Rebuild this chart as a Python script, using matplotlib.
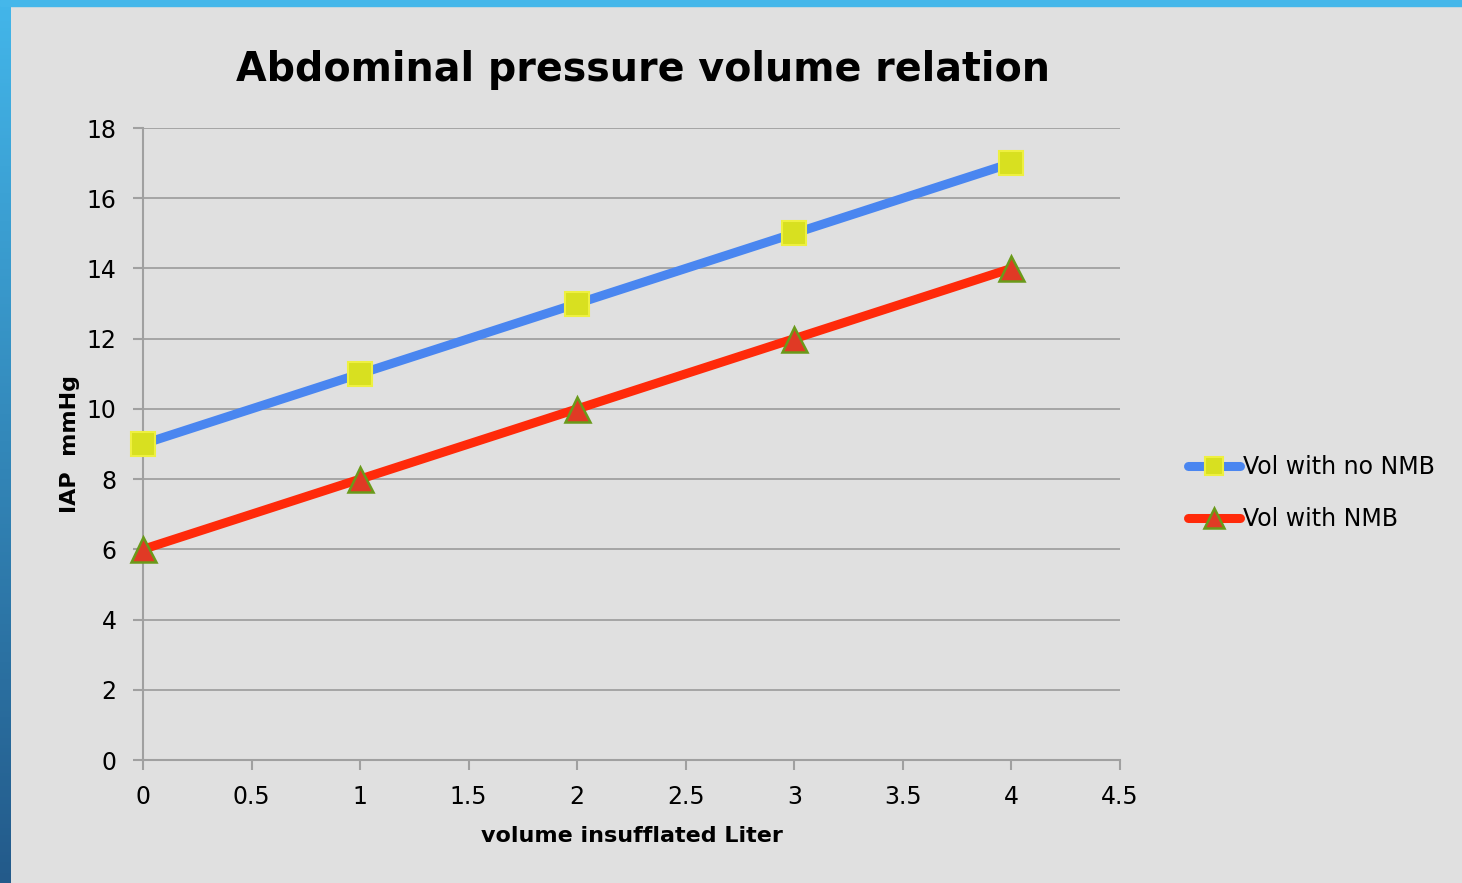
import numpy as np
import matplotlib
matplotlib.use("Agg")
import matplotlib.pyplot as plt
from matplotlib.patches import Rectangle

# data
volume = [0, 1, 2, 3, 4]
iap_no_nmb = [9, 11, 13, 15, 17]
iap_nmb = [6, 8, 10, 12, 14]
series_names = ["Vol with no NMB", "Vol with NMB"]

plt.rcParams['font.family'] = ['DejaVu Sans']

fig = plt.figure(figsize=(14.62, 8.83), dpi=100)
fig.patch.set_facecolor("#e0e0e0")

# blue slide frame (left gradient strip + top strip)
grad = np.linspace(0, 1, 256).reshape(-1, 1)
cmap = matplotlib.colors.LinearSegmentedColormap.from_list("frame", ["#43b6ea", "#235a8a"])
bax = fig.add_axes([0, 0, 11 / 1462, 1])
bax.imshow(grad, aspect="auto", cmap=cmap, extent=[0, 1, 0, 1])
bax.axis("off")
fig.patches.append(Rectangle((0, 1 - 6 / 883), 1, 6 / 883, transform=fig.transFigure,
                             color="#45b7ea", zorder=5))

ax = fig.add_axes([143 / 1462, 1 - 760 / 883, (1120 - 143) / 1462, (760 - 128) / 883])
ax.set_facecolor("#e0e0e0")

ax.plot(volume, iap_no_nmb, color="#4a86f0", lw=6.5, marker="s", markersize=17,
        markerfacecolor="#d8e020", markeredgecolor="#eef040", markeredgewidth=1.5,
        label=series_names[0], solid_capstyle="round", zorder=3, clip_on=False)
ax.plot(volume, iap_nmb, color="#ff2a0a", lw=6.5, marker="^", markersize=18,
        markerfacecolor="#e03a25", markeredgecolor="#6a9a1a", markeredgewidth=1.8,
        label=series_names[1], solid_capstyle="round", zorder=3, clip_on=False)

ax.set_xlim(0, 4.5)
ax.set_ylim(0, 18)
ax.set_xticks(np.arange(0, 4.51, 0.5))
ax.set_xticklabels(["0", "0.5", "1", "1.5", "2", "2.5", "3", "3.5", "4", "4.5"])
ax.set_yticks(np.arange(0, 19, 2))
ax.grid(axis="y", color="#a0a0a0", lw=1.3)
ax.set_axisbelow(True)
for s in ["top", "right"]:
    ax.spines[s].set_visible(False)
for s in ["left", "bottom"]:
    ax.spines[s].set_color("#a0a0a0")
    ax.spines[s].set_linewidth(1.5)
ax.tick_params(axis="both", colors="#a0a0a0", labelcolor="black", labelsize=17,
               length=7, width=1.5)
ax.tick_params(axis="y", pad=12)
ax.tick_params(axis="x", pad=11)

ax.set_xlabel("volume insufflated Liter", fontsize=16, fontweight="bold", labelpad=12)
ax.set_ylabel("IAP  mmHg", fontsize=16, fontweight="bold", labelpad=5)

fig.text(643 / 1462, 1 - 70 / 883, "Abdominal pressure volume relation", ha="center",
         va="center", fontsize=28.5, fontweight="bold")

leg = fig.legend(loc="center left", bbox_to_anchor=(1167 / 1462, 1 - 493 / 883),
                 frameon=False, fontsize=17, handlelength=2.2, handletextpad=0.1,
                 labelspacing=1.2, markerscale=0.8)

fig.savefig("out.png", dpi=100, facecolor=fig.get_facecolor())
